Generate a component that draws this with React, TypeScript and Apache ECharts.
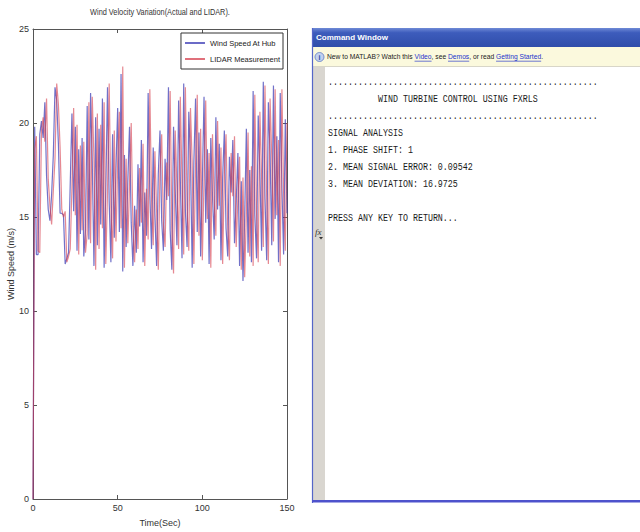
import React, { useEffect, useRef } from "react";
import * as echarts from "echarts";

// Sample times (s), one sample per second
const timeSec: number[] = Array.from({ length: 151 }, (_, i) => i);

// Wind speed at the hub (m/s)
const hubSpeed: number[] = [
  0, 19.8, 13.0, 13.0, 19.4, 20.1, 19.2, 21.1, 17.2, 15.4,
  14.8, 16.2, 18.3, 21.9, 21.2, 18.9, 15.2, 15.2, 15.1, 12.5,
  12.8, 13.1, 16.8, 20.5, 15.3, 19.8, 13.2, 18.6, 14.1, 19.2,
  12.9, 14.3, 20.9, 13.8, 21.6, 17.9, 12.4, 20.3, 13.5, 19.7,
  14.6, 21.3, 12.3, 16.5, 21.9, 15.8, 12.6, 19.4, 13.9, 17.6,
  20.8, 14.2, 22.6, 12.1, 18.3, 13.4, 16.9, 19.8, 14.7, 12.4,
  15.6, 13.1, 17.8, 14.5, 19.1, 12.6, 16.3, 14.0, 21.6, 16.2,
  13.3, 18.7, 15.1, 12.4, 17.3, 19.6, 14.8, 13.2, 18.1, 15.9,
  21.9, 14.3, 12.2, 19.8, 16.4, 13.5, 21.2, 17.0, 12.8, 22.1,
  15.3, 13.4, 20.6, 18.1, 12.3, 17.9, 21.3, 14.2, 19.5, 12.9,
  16.8, 21.4, 14.7, 18.6, 12.5, 19.2, 16.1, 13.8, 20.3, 15.4,
  18.9, 12.7, 17.1, 19.6, 14.4, 12.9, 18.2, 16.3, 19.1, 13.6,
  15.8, 18.4, 12.4, 16.9, 11.6, 14.9, 19.7, 13.1, 17.5, 12.6,
  21.7, 15.1, 12.8, 20.4, 17.3, 13.2, 22.2, 16.0, 12.7, 21.1,
  18.4, 13.5, 22.0, 14.9, 19.3, 12.6, 21.6, 16.5, 13.0, 20.2,
  15.2,
];

// LIDAR measurement of the same wind field (m/s)
const lidarSpeed: number[] = [
  0, 18.6, 19.3, 13.2, 13.1, 19.6, 20.3, 19.0, 21.3, 17.0,
  15.6, 14.6, 16.4, 18.1, 22.1, 21.0, 18.7, 15.4, 15.0, 15.3,
  12.6, 12.9, 13.3, 16.6, 20.8, 15.1, 19.9, 13.0, 18.8, 14.3,
  19.0, 13.1, 14.1, 21.1, 13.6, 21.4, 18.1, 12.2, 20.5, 13.3,
  19.9, 14.4, 21.1, 12.5, 16.3, 22.1, 15.6, 12.8, 19.6, 13.7,
  17.8, 20.6, 14.4, 23.0, 12.3, 18.1, 13.6, 16.7, 20.0, 14.5,
  12.6, 15.4, 13.3, 17.6, 14.7, 18.9, 12.4, 16.5, 13.8, 21.8,
  16.0, 13.5, 18.5, 15.3, 12.2, 17.5, 19.4, 14.6, 13.4, 17.9,
  16.1, 21.7, 14.5, 12.0, 19.6, 16.6, 13.3, 21.4, 16.8, 13.0,
  21.9, 15.5, 13.2, 20.8, 17.9, 12.5, 17.7, 21.5, 14.0, 19.7,
  12.7, 17.0, 21.2, 14.9, 18.4, 12.3, 19.4, 15.9, 14.0, 20.1,
  15.6, 18.7, 12.5, 17.3, 19.4, 14.6, 12.7, 18.4, 16.1, 19.3,
  13.4, 16.0, 18.2, 12.2, 17.1, 11.8, 15.1, 19.5, 12.9, 17.7,
  12.4, 21.5, 15.3, 12.6, 20.6, 17.1, 13.4, 22.0, 16.2, 12.5,
  21.3, 18.2, 13.7, 21.8, 15.1, 19.1, 12.4, 21.8, 16.3, 13.2,
  20.0,
];

const seriesNames: string[] = ["Wind Speed At Hub", "LIDAR Measurement"];

// Command window output
const consoleLines: string[] = [
  "......................................................",
  "          WIND TURBINE CONTROL USING FXRLS",
  "......................................................",
  "SIGNAL ANALYSIS",
  "1. PHASE SHIFT: 1",
  "2. MEAN SIGNAL ERROR: 0.09542",
  "3. MEAN DEVIATION: 16.9725",
  "",
  "PRESS ANY KEY TO RETURN...",
];

const infoSegments: [string, boolean][] = [
  ["New to MATLAB? Watch this ", false],
  ["Video", true],
  [", see ", false],
  ["Demos", true],
  [", or read ", false],
  ["Getting Started", true],
  [".", false],
];

const SANS = "'Liberation Sans', Arial, sans-serif";
const MONO = "'Liberation Mono', 'Courier New', monospace";

function measure(text: string, font: string): number {
  const c = document.createElement("canvas").getContext("2d");
  if (!c) return text.length * 4;
  c.font = font;
  return c.measureText(text).width;
}

export default function App() {
  const ref = useRef<HTMLDivElement>(null);

  useEffect(() => {
    if (!ref.current) return;
    const chart = echarts.init(ref.current, undefined, { renderer: "svg" });

    const hubData = timeSec.map((t, i) => [t, hubSpeed[i]]);
    const lidarData = timeSec.map((t, i) => [t, lidarSpeed[i]]);

    // Plot title squeezed to the narrow MATLAB look
    const titleText = "Wind Velocity Variation(Actual and LIDAR).";
    const titleW = measure(titleText, `9px ${SANS}`);
    const titleScale = 140 / titleW;

    // Info bar with underlined links
    const infoFont = `7.5px ${SANS}`;
    let cum = 0;
    const infoChildren: any[] = [];
    infoSegments.forEach(([txt, link]) => {
      const w = measure(txt, infoFont);
      infoChildren.push({
        type: "text",
        x: cum,
        y: 0,
        style: {
          text: txt,
          fill: link ? "#2233cc" : "#222",
          font: infoFont,
          textVerticalAlign: "middle",
        },
      });
      if (link) {
        infoChildren.push({
          type: "line",
          shape: { x1: cum, y1: 4.2, x2: cum + w, y2: 4.2 },
          style: { stroke: "#2233cc", lineWidth: 0.7 },
        });
      }
      cum += w;
    });
    const infoScale = 216 / cum;

    const monoFontSize = 11;
    const monoAdvance = measure("M", `${monoFontSize}px ${MONO}`);
    const monoScale = 5 / monoAdvance;

    const consoleChildren = consoleLines.map((ln, i) => ({
      type: "text",
      x: 328,
      y: 82 + i * 17,
      scaleX: monoScale,
      style: {
        text: ln,
        fill: "#1a1a1a",
        font: `${monoFontSize}px ${MONO}`,
        textVerticalAlign: "middle",
      },
    }));

    const option: any = {
      animation: false,
      backgroundColor: "#ffffff",
      grid: { left: 33, right: 353, top: 29, bottom: 29 },
      legend: {
        orient: "vertical",
        right: 357,
        top: 33,
        data: seriesNames,
        icon: "rect",
        itemWidth: 20,
        itemHeight: 1.5,
        itemGap: 8,
        padding: [6, 3, 6, 4],
        borderColor: "#333",
        borderWidth: 1,
        backgroundColor: "#fff",
        textStyle: { fontSize: 7.5, color: "#222", fontFamily: SANS },
      },
      xAxis: [
        {
          type: "value",
          min: 0,
          max: 150,
          interval: 50,
          name: "Time(Sec)",
          nameLocation: "middle",
          nameGap: 19,
          nameTextStyle: { fontSize: 9, color: "#333", fontFamily: SANS },
          axisLine: { show: true, onZero: false, lineStyle: { color: "#555" } },
          axisTick: { show: true, inside: true, length: 4, lineStyle: { color: "#555" } },
          axisLabel: { fontSize: 9, color: "#333", margin: 4, fontFamily: SANS },
          splitLine: { show: false },
        },
        {
          type: "value",
          position: "top",
          min: 0,
          max: 150,
          interval: 50,
          axisLine: { show: true, onZero: false, lineStyle: { color: "#555" } },
          axisTick: { show: true, inside: true, length: 4, lineStyle: { color: "#555" } },
          axisLabel: { show: false },
          splitLine: { show: false },
        },
      ],
      yAxis: [
        {
          type: "value",
          min: 0,
          max: 25,
          interval: 5,
          name: "Wind Speed (m/s)",
          nameLocation: "middle",
          nameGap: 17,
          nameTextStyle: { fontSize: 9, color: "#333", fontFamily: SANS },
          axisLine: { show: true, onZero: false, lineStyle: { color: "#555" } },
          axisTick: { show: true, inside: true, length: 4, lineStyle: { color: "#555" } },
          axisLabel: { fontSize: 9, color: "#333", margin: 4, fontFamily: SANS },
          splitLine: { show: false },
        },
        {
          type: "value",
          position: "right",
          min: 0,
          max: 25,
          interval: 5,
          axisLine: { show: true, onZero: false, lineStyle: { color: "#555" } },
          axisTick: { show: true, inside: true, length: 4, lineStyle: { color: "#555" } },
          axisLabel: { show: false },
          splitLine: { show: false },
        },
      ],
      series: [
        {
          name: seriesNames[0],
          type: "line",
          data: hubData,
          showSymbol: false,
          symbol: "none",
          color: "#3a3ab4",
          lineStyle: { width: 1.2, color: "#3a3ab4", opacity: 0.72 },
        },
        {
          name: seriesNames[1],
          type: "line",
          data: lidarData,
          showSymbol: false,
          symbol: "none",
          color: "#d6404f",
          lineStyle: { width: 1.2, color: "#d6404f", opacity: 0.62 },
        },
      ],
      graphic: [
        {
          type: "text",
          x: 160,
          y: 12,
          scaleX: titleScale,
          style: {
            text: titleText,
            font: `9px ${SANS}`,
            fill: "#333",
            textAlign: "center",
            textVerticalAlign: "middle",
          },
        },
        // Command window panel
        {
          type: "group",
          children: [
            { type: "rect", shape: { x: 312, y: 27, width: 328, height: 476 }, style: { fill: "#ffffff" } },
            {
              type: "rect",
              shape: { x: 312, y: 28, width: 328, height: 19 },
              style: {
                fill: new echarts.graphic.LinearGradient(0, 0, 0, 1, [
                  { offset: 0, color: "#6f8ad6" },
                  { offset: 0.25, color: "#3d5cbc" },
                  { offset: 1, color: "#2f4daa" },
                ]),
              },
            },
            {
              type: "text",
              x: 316,
              y: 37.5,
              style: {
                text: "Command Window",
                font: `bold 8px ${SANS}`,
                fill: "#ffffff",
                textVerticalAlign: "middle",
              },
            },
            { type: "rect", shape: { x: 312, y: 47, width: 328, height: 19 }, style: { fill: "#fbf9dd" } },
            { type: "line", shape: { x1: 312, y1: 66.5, x2: 640, y2: 66.5 }, style: { stroke: "#d8d6c8", lineWidth: 1 } },
            { type: "circle", shape: { cx: 319.5, cy: 57, r: 4.5 }, style: { fill: "#c2d0f0", stroke: "#5c78c0", lineWidth: 0.8 } },
            {
              type: "text",
              x: 319.5,
              y: 57,
              style: { text: "i", font: `bold 7px ${SANS}`, fill: "#2a4aa0", textAlign: "center", textVerticalAlign: "middle" },
            },
            { type: "group", x: 327, y: 57, scaleX: infoScale, children: infoChildren },
            { type: "rect", shape: { x: 313, y: 67, width: 12, height: 433 }, style: { fill: "#d9d6d0" } },
            { type: "line", shape: { x1: 312.5, y1: 28, x2: 312.5, y2: 503 }, style: { stroke: "#5566c8", lineWidth: 1.2 } },
            { type: "rect", shape: { x: 312, y: 500, width: 328, height: 2.5 }, style: { fill: "#4e52cc" } },
            ...consoleChildren,
            {
              type: "text",
              x: 315,
              y: 232,
              style: { text: "fx", font: `italic 9px 'Liberation Serif', serif`, fill: "#333", textVerticalAlign: "middle" },
            },
            {
              type: "polygon",
              shape: { points: [[319, 237], [323, 237], [321, 239.5]] },
              style: { fill: "#333" },
            },
          ],
        },
      ],
    };

    chart.setOption(option);
    return () => chart.dispose();
  }, []);

  return (
    <div
      ref={ref}
      style={{ position: "absolute", left: 0, top: 0, width: 640, height: 532, background: "#fff" }}
    />
  );
}
